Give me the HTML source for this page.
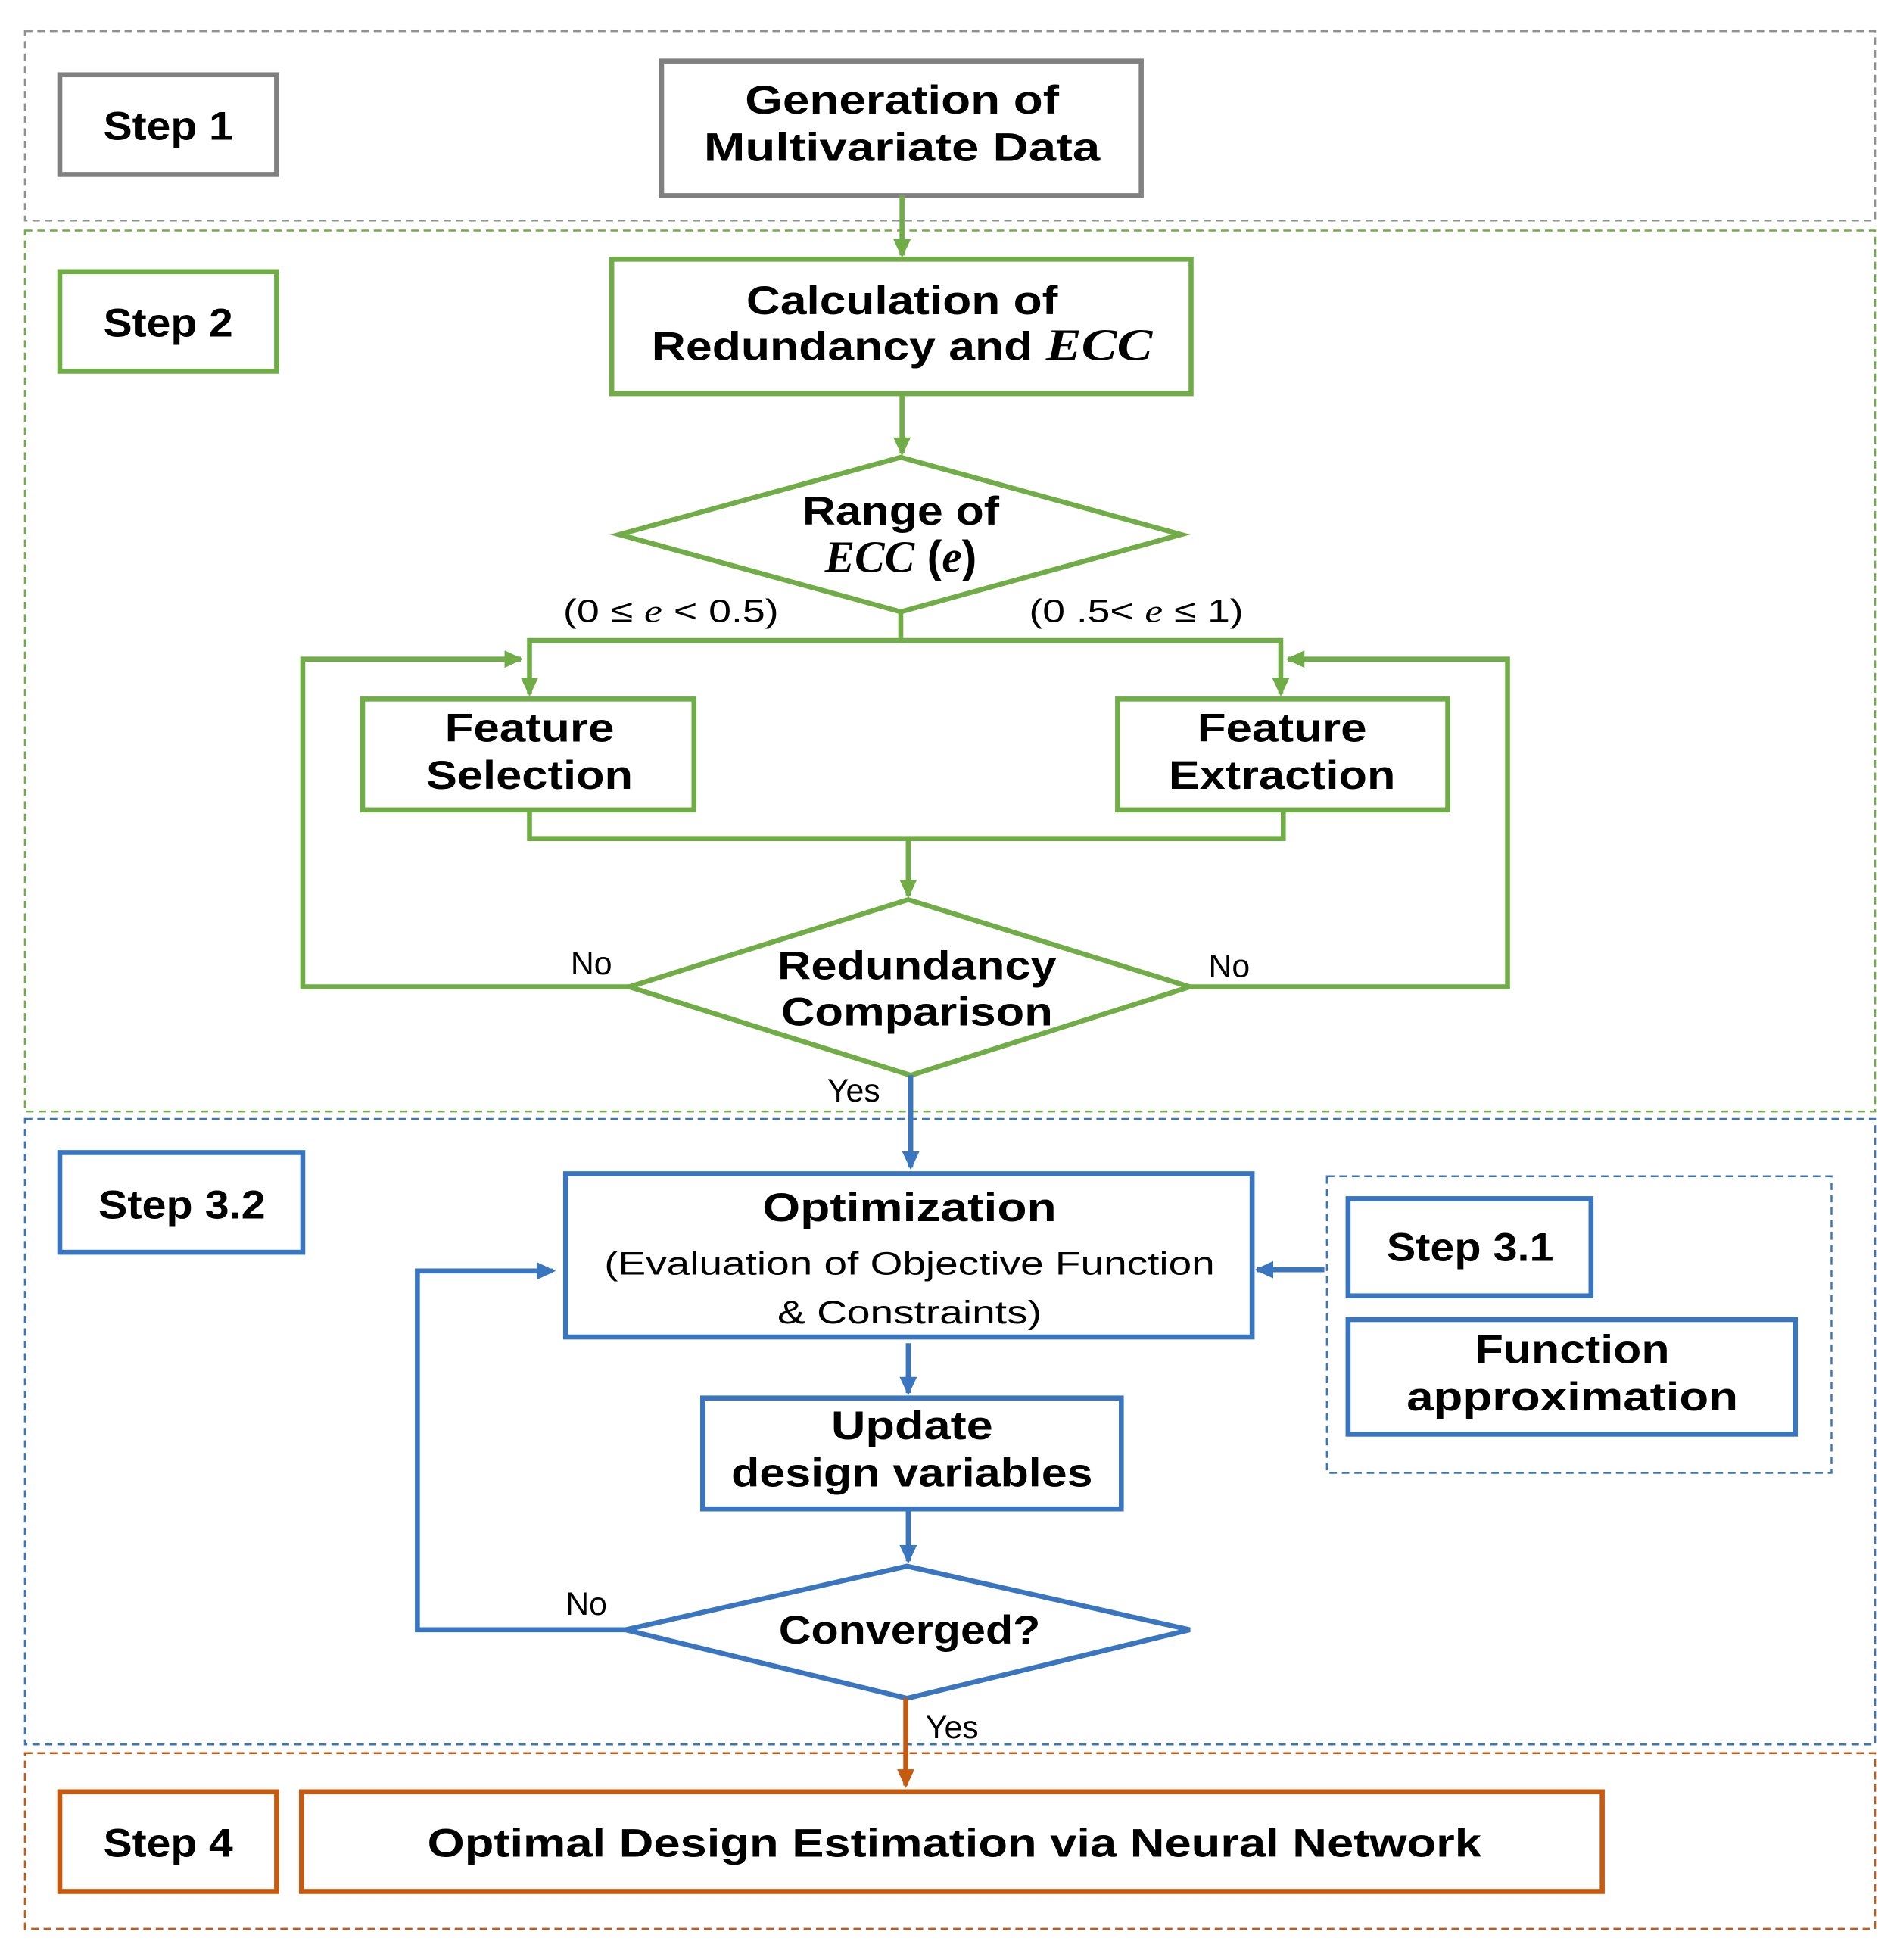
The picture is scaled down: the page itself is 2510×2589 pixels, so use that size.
<!DOCTYPE html>
<html><head><meta charset="utf-8"><style>
html,body{margin:0;padding:0;background:#fff}
svg{display:block}
text{font-family:"Liberation Sans",sans-serif;fill:#000}
.b{font-weight:bold;font-size:32px}
.n{font-size:26px}
.i{font-family:"Liberation Serif",serif;font-style:italic}
</style></head><body>
<svg width="2510" height="2589" viewBox="0 0 1525 1573" preserveAspectRatio="none" xmlns="http://www.w3.org/2000/svg">
<defs>
<marker id="ag" markerWidth="15" markerHeight="14" refX="13" refY="7" orient="auto" markerUnits="userSpaceOnUse" viewBox="0 0 15 14"><path d="M0,0 L15,7 L0,14 z" fill="#70AD47"/></marker>
<marker id="ab" markerWidth="15" markerHeight="14" refX="13" refY="7" orient="auto" markerUnits="userSpaceOnUse" viewBox="0 0 15 14"><path d="M0,0 L15,7 L0,14 z" fill="#3A75C0"/></marker>
<marker id="ao" markerWidth="15" markerHeight="14" refX="13" refY="7" orient="auto" markerUnits="userSpaceOnUse" viewBox="0 0 15 14"><path d="M0,0 L15,7 L0,14 z" fill="#C55A11"/></marker>
</defs>
<rect width="1525" height="1573" fill="#fff"/>
<!-- regions -->
<rect x="20" y="25" width="1485" height="152" fill="none" stroke="#909090" stroke-width="1.5" stroke-dasharray="6,4"/>
<rect x="20" y="185" width="1485" height="707" fill="none" stroke="#70AD47" stroke-width="1.5" stroke-dasharray="6,4"/>
<rect x="20" y="898" width="1485" height="502" fill="none" stroke="#3A75C0" stroke-width="1.5" stroke-dasharray="6,4"/>
<rect x="1065" y="944" width="405" height="238" fill="none" stroke="#3A75C0" stroke-width="1.5" stroke-dasharray="6,4"/>
<rect x="20" y="1407" width="1485" height="141" fill="none" stroke="#C55A11" stroke-width="1.5" stroke-dasharray="6,4"/>

<!-- step 1 -->
<rect x="48" y="60" width="174" height="80" fill="none" stroke="#808080" stroke-width="4"/>
<text class="b" x="135" y="112" text-anchor="middle" textLength="104" lengthAdjust="spacingAndGlyphs">Step 1</text>
<rect x="531" y="49" width="385" height="108" fill="none" stroke="#808080" stroke-width="4"/>
<text class="b" x="724" y="91" text-anchor="middle" textLength="252" lengthAdjust="spacingAndGlyphs">Generation of</text>
<text class="b" x="724" y="129" text-anchor="middle" textLength="318" lengthAdjust="spacingAndGlyphs">Multivariate Data</text>

<!-- step 2 -->
<g stroke="#70AD47" stroke-width="4" fill="none">
<line x1="724" y1="157" x2="724" y2="205" marker-end="url(#ag)"/>
<rect x="491" y="208" width="465" height="108"/>
<rect x="48" y="218" width="174" height="80"/>
<line x1="724" y1="316" x2="724" y2="364" marker-end="url(#ag)"/>
<polygon points="723,367 948,429 723,491 497,429"/>
<polyline points="723,491 723,514 425,514 425,557" marker-end="url(#ag)"/>
<polyline points="723,514 1028,514 1028,557" marker-end="url(#ag)"/>
<rect x="291" y="561" width="266" height="89"/>
<rect x="897" y="561" width="265" height="89"/>
<polyline points="425,650 425,673 1030,673 1030,650"/>
<line x1="729" y1="673" x2="729" y2="719" marker-end="url(#ag)"/>
<polygon points="729,722 955,792 731,863 505,792"/>
<polyline points="505,792 243,792 243,529 418,529" marker-end="url(#ag)"/>
<polyline points="955,792 1210,792 1210,529 1034,529" marker-end="url(#ag)"/>
</g>
<text class="b" x="135" y="270" text-anchor="middle" textLength="104" lengthAdjust="spacingAndGlyphs">Step 2</text>
<text class="b" x="724" y="252" text-anchor="middle" textLength="250" lengthAdjust="spacingAndGlyphs">Calculation of</text>
<text class="b" x="724" y="289" text-anchor="middle" textLength="402" lengthAdjust="spacingAndGlyphs">Redundancy and <tspan class="i" font-size="36">ECC</tspan></text>
<text class="b" x="723" y="421" text-anchor="middle" textLength="158" lengthAdjust="spacingAndGlyphs">Range of</text>
<text x="723" y="459" text-anchor="middle" font-size="36" font-weight="bold"><tspan class="i">ECC</tspan> (<tspan class="i">e</tspan>)</text>
<text class="n" x="452" y="499" textLength="173" lengthAdjust="spacingAndGlyphs">(0 ≤ <tspan class="i">e</tspan> &lt; 0.5)</text>
<text class="n" x="826" y="499" textLength="172" lengthAdjust="spacingAndGlyphs">(0 .5&lt; <tspan class="i">e</tspan> ≤ 1)</text>
<text class="b" x="425" y="595" text-anchor="middle" textLength="136" lengthAdjust="spacingAndGlyphs">Feature</text>
<text class="b" x="425" y="633" text-anchor="middle" textLength="166" lengthAdjust="spacingAndGlyphs">Selection</text>
<text class="b" x="1029" y="595" text-anchor="middle" textLength="136" lengthAdjust="spacingAndGlyphs">Feature</text>
<text class="b" x="1029" y="633" text-anchor="middle" textLength="182" lengthAdjust="spacingAndGlyphs">Extraction</text>
<text class="b" x="736" y="786" text-anchor="middle" textLength="224" lengthAdjust="spacingAndGlyphs">Redundancy</text>
<text class="b" x="736" y="823" text-anchor="middle" textLength="218" lengthAdjust="spacingAndGlyphs">Comparison</text>
<text class="n" x="458" y="782">No</text>
<text class="n" x="970" y="784">No</text>
<text class="n" x="664" y="884">Yes</text>

<!-- step 3 -->
<g stroke="#3A75C0" stroke-width="4" fill="none">
<line x1="731" y1="863" x2="731" y2="937" marker-end="url(#ab)"/>
<rect x="48" y="925" width="195" height="80"/>
<rect x="454" y="942" width="551" height="131"/>
<rect x="1082" y="962" width="195" height="78"/>
<rect x="1082" y="1059" width="359" height="92"/>
<line x1="1063" y1="1019" x2="1009" y2="1019" marker-end="url(#ab)"/>
<line x1="729" y1="1078" x2="729" y2="1118" marker-end="url(#ab)"/>
<rect x="564" y="1122" width="336" height="89"/>
<line x1="729" y1="1211" x2="729" y2="1253" marker-end="url(#ab)"/>
<polygon points="728,1257 955,1308 728,1363 502,1308"/>
<polyline points="502,1308 335,1308 335,1020 444,1020" marker-end="url(#ab)"/>
</g>
<text class="b" x="146" y="978" text-anchor="middle" textLength="134" lengthAdjust="spacingAndGlyphs">Step 3.2</text>
<text class="b" x="730" y="980" text-anchor="middle" textLength="236" lengthAdjust="spacingAndGlyphs">Optimization</text>
<text class="n" x="730" y="1023" text-anchor="middle" textLength="490" lengthAdjust="spacingAndGlyphs">(Evaluation of Objective Function</text>
<text class="n" x="730" y="1062" text-anchor="middle" textLength="212" lengthAdjust="spacingAndGlyphs">&amp; Constraints)</text>
<text class="b" x="1180" y="1012" text-anchor="middle" textLength="134" lengthAdjust="spacingAndGlyphs">Step 3.1</text>
<text class="b" x="1262" y="1094" text-anchor="middle" textLength="156" lengthAdjust="spacingAndGlyphs">Function</text>
<text class="b" x="1262" y="1132" text-anchor="middle" textLength="266" lengthAdjust="spacingAndGlyphs">approximation</text>
<text class="b" x="732" y="1155" text-anchor="middle" textLength="130" lengthAdjust="spacingAndGlyphs">Update</text>
<text class="b" x="732" y="1193" text-anchor="middle" textLength="290" lengthAdjust="spacingAndGlyphs">design variables</text>
<text class="b" x="730" y="1319" text-anchor="middle" textLength="210" lengthAdjust="spacingAndGlyphs">Converged?</text>
<text class="n" x="454" y="1296">No</text>

<!-- step 4 -->
<g stroke="#C55A11" stroke-width="4" fill="none">
<line x1="727" y1="1363" x2="727" y2="1433" marker-end="url(#ao)"/>
<rect x="48" y="1438" width="174" height="80"/>
<rect x="242" y="1438" width="1044" height="80"/>
</g>
<text class="n" x="743" y="1395">Yes</text>
<text class="b" x="135" y="1490" text-anchor="middle" textLength="104" lengthAdjust="spacingAndGlyphs">Step 4</text>
<text class="b" x="766" y="1490" text-anchor="middle" textLength="846" lengthAdjust="spacingAndGlyphs">Optimal Design Estimation via Neural Network</text>
</svg>
</body></html>
